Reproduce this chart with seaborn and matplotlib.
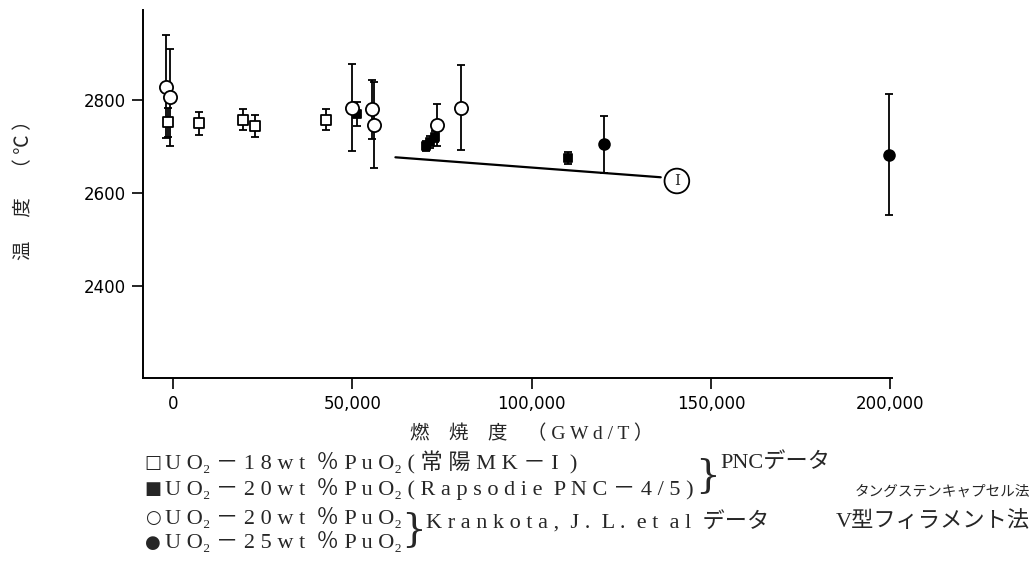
import matplotlib
matplotlib.use("Agg")
import matplotlib.pyplot as plt
import seaborn as sns
import pandas as pd

# ---- data (burnup, temperature in C) ----
sq_open_x = [-1400, 7300, 19400, 22900, 42600]
sq_open_t = [2752, 2750, 2758, 2744, 2758]
sq_open_e = [32, 25, 23, 24, 23]

sq_fill_x = [51400, 70600, 71700, 73100, 110100]
sq_fill_t = [2770, 2701, 2710, 2721, 2675]
sq_fill_e = [25, 10, 12, 12, 13]

ci_open_x = [-1950, -850, 49800, 55600, 55900, 73700, 80300]
ci_open_t = [2829, 2806, 2784, 2780, 2746, 2746, 2784]
ci_open_e = [111, 105, 93, 64, 93, 45, 92]

ci_fill_x = [120300, 199700]
ci_fill_t = [2705, 2683]
ci_fill_e = [61, 130]

line1_x = [62000, 136000]
line1_t = [2677, 2634]

x_ticks = [0, 50000, 100000, 150000, 200000]
x_ticklabels = ["0", "50,000", "100,000", "150,000", "200,000"]
y_ticks = [2400, 2600, 2800]

W, H = 1035, 563

sns.set_style("ticks")
plt.rcParams['font.family'] = ['DejaVu Sans', 'Noto Sans CJK JP']

fig = plt.figure(figsize=(W / 100, H / 100), dpi=100)
ax = fig.add_axes([143 / W, 1 - 378 / H, (892 - 143) / W, (378 - 10) / H])

groups = [
    (sq_open_x, sq_open_t, sq_open_e, "s", "white", 50),
    (sq_fill_x, sq_fill_t, sq_fill_e, "s", "black", 36),
    (ci_open_x, ci_open_t, ci_open_e, "o", "white", 90),
    (ci_fill_x, ci_fill_t, ci_fill_e, "o", "black", 60),
]
for gx, gt, ge, mk, fc, sz in groups:
    ax.errorbar(gx, gt, yerr=ge, fmt="none", ecolor="black", elinewidth=1.3,
                capsize=3.2, capthick=1.3, zorder=2, clip_on=False)
    df = pd.DataFrame({"x": gx, "t": gt})
    sns.scatterplot(data=df, x="x", y="t", marker=mk, s=sz, color=fc,
                    edgecolor="black", linewidth=1.3, ax=ax, zorder=3,
                    legend=False, clip_on=False)

sns.lineplot(x=line1_x, y=line1_t, color="black", linewidth=1.6, ax=ax)
ax.text(140500, 2626, "I", ha="center", va="center", fontsize=11,
        family="DejaVu Serif",
        bbox=dict(boxstyle="circle,pad=0.35", fc="white", ec="black", lw=1.3))

ax.set_xlim(-8400, 200500)
ax.set_ylim(2202, 2994)
ax.set_xticks(x_ticks)
ax.set_xticklabels(x_ticklabels)
ax.set_yticks(y_ticks)
ax.set_xlabel("")
ax.set_ylabel("")
ax.tick_params(axis="both", direction="out", length=8, width=1.2, labelsize=12,
               colors="black", pad=4)
for s in ["top", "right"]:
    ax.spines[s].set_visible(False)
for s in ["left", "bottom"]:
    ax.spines[s].set_linewidth(1.4)
    ax.spines[s].set_color("black")


def ftext(x, y, s, **kw):
    fig.text(x / W, 1 - y / H, s, **kw)


serif_cjk = ['Liberation Serif', 'DejaVu Serif', 'Noto Sans CJK JP']

# axis labels
ftext(532, 434, "燃　焼　度　（ G W d / T ）", ha="center", va="center", fontsize=14,
      family=serif_cjk)
ftext(24, 185, "温　 度　（ ℃ ）", ha="center", va="center", rotation=90,
      fontsize=14, family=['Noto Sans CJK JP', 'DejaVu Sans'])

# legend block
rows_y = [463, 489, 518, 543]
symbols = ["□", "■", "○", "●"]
labels = [
    "U O₂ － 1 8 w t  ％ P u O₂ ( 常 陽 M K － I  )",
    "U O₂ － 2 0 w t  ％ P u O₂ ( R a p s o d i e  P N C － 4 / 5 )",
    "U O₂ － 2 0 w t  ％ P u O₂",
    "U O₂ － 2 5 w t  ％ P u O₂",
]
for yy, sym, lab in zip(rows_y, symbols, labels):
    ftext(153, yy, sym, ha="center", va="center", fontsize=13,
          family=['DejaVu Sans'])
    ftext(165, yy, lab, ha="left", va="center", fontsize=16, family=serif_cjk)

ftext(708, 476, "}", ha="center", va="center", fontsize=28, family=['DejaVu Serif'])
ftext(720, 463, "PNCデータ", ha="left", va="center", fontsize=16, family=serif_cjk)
ftext(1030, 492, "タングステンキャプセル法", ha="right", va="center", fontsize=10.5,
      family=serif_cjk)

ftext(414, 530, "}", ha="center", va="center", fontsize=28, family=['DejaVu Serif'])
ftext(426, 522, "K r a n k o t a ,  J .  L .  e t  a l  データ", ha="left",
      va="center", fontsize=16, family=serif_cjk)
ftext(1030, 522, "V型フィラメント法", ha="right", va="center", fontsize=16,
      family=serif_cjk)

fig.savefig("out.png", dpi=100)
